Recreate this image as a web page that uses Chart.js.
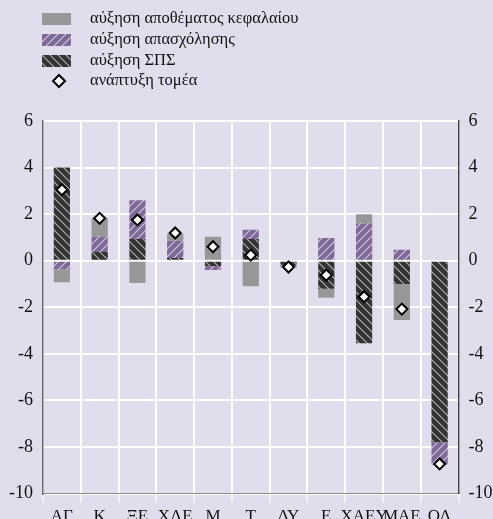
<!DOCTYPE html>
<html>
<head>
<meta charset="utf-8">
<script src="https://cdn.jsdelivr.net/npm/chart.js@4"></script>
<style>
  html, body { margin: 0; padding: 0; background: #e1ddec; }
  #wrap { position: relative; width: 493px; height: 519px; overflow: hidden; }
  #c { position: absolute; left: 0; top: 0; }
  .leg { position: absolute; left: 0; top: 0; font-family: "Liberation Serif", serif; font-size: 16.5px; color: #111; }
  .row { position: absolute; left: 0; height: 20px; white-space: nowrap; }
  .row canvas { position: absolute; left: 42px; }
  .row span { position: absolute; left: 90px; line-height: 20px; top: -1px; }
</style>
</head>
<body>
<div id="wrap">
  <canvas id="c" width="493" height="519"></canvas>
  <div class="leg" id="leg"></div>
</div>
<script>
const categories = ['ΑΓ','Κ','ΞΕ','ΧΛΕ','Μ','Τ','ΔΥ','Ε','ΧΑΕΥ','ΜΑΕ','ΟΛ'];
const tfpGrowth = [4.0, 0.4, 0.93, 0.12, -0.24, 0.93, -0.22, -1.2, -3.55, -1.0, -7.8];
const labourGrowth = [-0.37, 0.63, 1.67, 0.74, -0.16, 0.4, -0.02, 0.97, 1.6, 0.47, -0.95];
const capitalGrowth = [-0.56, 0.8, -0.96, 0.31, 1.03, -1.1, -0.05, -0.39, 0.4, -1.55, 0];
const sectorGrowth = [3.05, 1.82, 1.75, 1.19, 0.6, 0.24, -0.27, -0.62, -1.55, -2.08, -8.73];
const yTicks = [6, 4, 2, 0, -2, -4, -6, -8, -10];
const legendLabels = ['αύξηση αποθέματος κεφαλαίου', 'αύξηση απασχόλησης', 'αύξηση ΣΠΣ', 'ανάπτυξη τομέα'];

const PURPLE = '#7e6996', DARK = '#333333', GRAY = '#979797';
const PURPLE_STRIPE = 'rgba(225,215,240,0.85)', DARK_STRIPE = 'rgba(200,200,200,0.85)';

function makePattern(g, bg, stripe, dir) {
  const t = document.createElement('canvas');
  t.width = 8; t.height = 8;
  const tg = t.getContext('2d');
  tg.fillStyle = bg; tg.fillRect(0, 0, 8, 8);
  tg.strokeStyle = stripe; tg.lineWidth = 1.1;
  tg.beginPath();
  if (dir === '/') {
    tg.moveTo(0, 8); tg.lineTo(8, 0);
    tg.moveTo(-1, 1); tg.lineTo(1, -1);
    tg.moveTo(7, 9); tg.lineTo(9, 7);
  } else {
    tg.moveTo(0, 0); tg.lineTo(8, 8);
    tg.moveTo(-1, 7); tg.lineTo(1, 9);
    tg.moveTo(7, -1); tg.lineTo(9, 1);
  }
  tg.stroke();
  return g.createPattern(t, 'repeat');
}
const ctx = document.getElementById('c').getContext('2d');
const purplePat = makePattern(ctx, PURPLE, PURPLE_STRIPE, '/');
const darkPat = makePattern(ctx, DARK, DARK_STRIPE, '\\');

// Legend
const leg = document.getElementById('leg');
const rowY = [9, 30, 51, 71];
legendLabels.forEach((txt, i) => {
  const row = document.createElement('div');
  row.className = 'row';
  row.style.top = rowY[i] + 'px';
  const sw = document.createElement('canvas');
  const sg = sw.getContext('2d');
  if (i < 3) {
    sw.width = 29; sw.height = 12; sw.style.top = '4px';
    let p = GRAY;
    if (i === 1) p = makePattern(sg, PURPLE, PURPLE_STRIPE, '/');
    if (i === 2) p = makePattern(sg, DARK, DARK_STRIPE, '\\');
    sg.fillStyle = p; sg.fillRect(0, 0, 29, 12);
  } else {
    sw.width = 16; sw.height = 16; sw.style.left = '51px'; sw.style.top = '2px';
    sg.beginPath();
    sg.moveTo(8, 2); sg.lineTo(14, 8); sg.lineTo(8, 14); sg.lineTo(2, 8); sg.closePath();
    sg.fillStyle = '#fff'; sg.fill();
    sg.lineWidth = 2; sg.strokeStyle = '#000'; sg.stroke();
  }
  const sp = document.createElement('span');
  sp.textContent = txt;
  row.appendChild(sw); row.appendChild(sp);
  leg.appendChild(row);
});

const tickFont = { family: 'Liberation Serif', size: 18 };

new Chart(ctx, {
  data: {
    labels: categories,
    datasets: [
      { type: 'bar', label: legendLabels[2], data: tfpGrowth, backgroundColor: darkPat, stack: 'bars', order: 1,
        barPercentage: 0.43, categoryPercentage: 1.0, borderWidth: 0 },
      { type: 'bar', label: legendLabels[1], data: labourGrowth, backgroundColor: purplePat, stack: 'bars', order: 1,
        barPercentage: 0.43, categoryPercentage: 1.0, borderWidth: 0 },
      { type: 'bar', label: legendLabels[0], data: capitalGrowth, backgroundColor: GRAY, stack: 'bars', order: 1,
        barPercentage: 0.43, categoryPercentage: 1.0, borderWidth: 0 },
      { type: 'line', label: legendLabels[3], data: sectorGrowth, stack: 'points', order: 0,
        showLine: false, pointStyle: 'rectRot', pointRadius: 5.5, pointHoverRadius: 5.5,
        pointBackgroundColor: '#ffffff', pointBorderColor: '#000000', pointBorderWidth: 2 }
    ]
  },
  options: {
    responsive: false,
    animation: false,
    events: [],
    layout: { padding: { top: 121, left: 0, right: 0, bottom: 0 } },
    plugins: { legend: { display: false }, tooltip: { enabled: false } },
    scales: {
      x: {
        stacked: true,
        offset: true,
        grid: { color: '#ffffff', lineWidth: 2, tickLength: 9, tickColor: '#f4f4f8', offset: true },
        border: { display: true, color: '#8a8a8a', width: 1 },
        ticks: { color: '#111', font: { family: 'Liberation Serif', size: 17 }, padding: 4, maxRotation: 0, autoSkip: false },
        afterFit: s => { s.height = 25.5; }
      },
      y: {
        position: 'left',
        stacked: true,
        min: -10, max: 6,
        afterBuildTicks: s => { s.ticks = yTicks.map(v => ({ value: v })); },
        grid: { color: '#ffffff', lineWidth: 2, drawTicks: false },
        border: { display: true, color: '#666666', width: 1.5 },
        ticks: { color: '#111', font: tickFont, padding: 10 },
        afterFit: s => { s.width = 43; }
      },
      y2: {
        position: 'right',
        min: -10, max: 6,
        afterBuildTicks: s => { s.ticks = yTicks.map(v => ({ value: v })); },
        grid: { display: false, drawTicks: false },
        border: { display: true, color: '#444444', width: 1.5 },
        ticks: { color: '#111', font: tickFont, padding: 10 },
        afterFit: s => { s.width = 34.5; }
      }
    }
  }
});
</script>
</body>
</html>
